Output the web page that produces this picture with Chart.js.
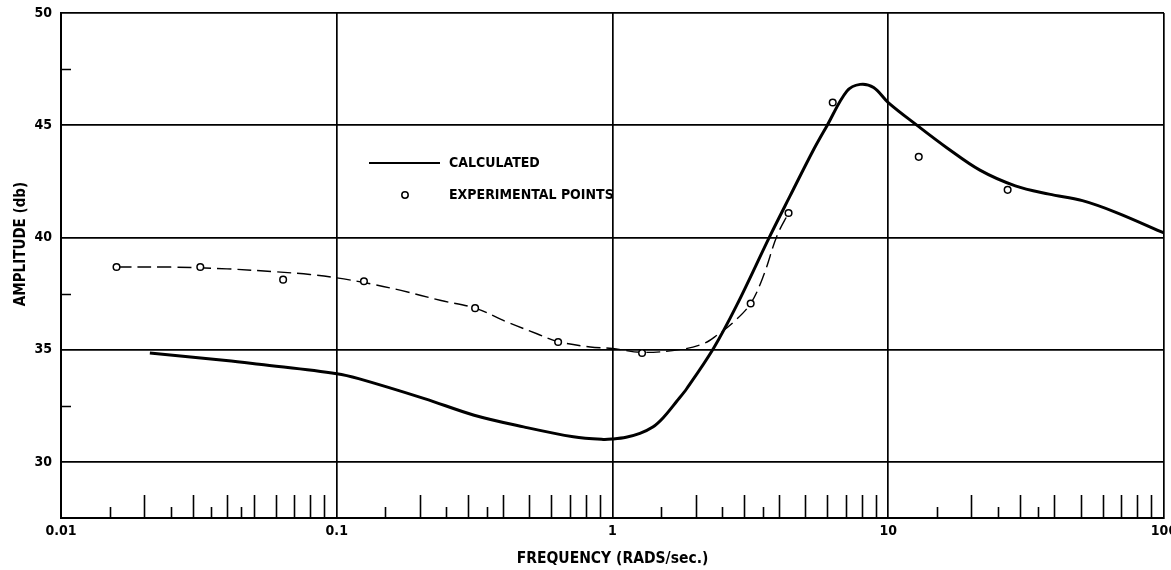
<!DOCTYPE html>
<html>
<head>
<meta charset="utf-8">
<script src="https://cdn.jsdelivr.net/npm/chart.js@4/dist/chart.umd.min.js"></script>
<style>
  html, body { margin: 0; padding: 0; background: #fff; overflow: hidden; }
  #wrap { width: 1200px; height: 570px; }
</style>
</head>
<body>
<div id="wrap"><canvas id="c" width="1200" height="570"></canvas></div>
<script>
const FONT = "'DejaVu Sans Condensed', 'DejaVu Sans', sans-serif";

// Axis ticks
const freqTicks = [0.01, 0.1, 1, 10, 100];
const freqTickLabels = ['0.01', '0.1', '1', '10', '100'];
const ampTicks = [30, 35, 40, 45, 50];
const ampTickLabels = ['30', '35', '40', '45', '50'];

// Log-paper division marks along the frequency axis
const longMinorFreq = [0.02, 0.03, 0.04, 0.05, 0.06, 0.07, 0.08, 0.09,
                       0.2, 0.3, 0.4, 0.5, 0.6, 0.7, 0.8, 0.9,
                       2, 3, 4, 5, 6, 7, 8, 9,
                       20, 30, 40, 50, 60, 70, 80, 90];
const shortMinorFreq = [0.015, 0.025, 0.035, 0.045, 0.15, 0.25, 0.35, 1.5, 2.5, 3.5, 15, 25, 35];
const minorAmp = [32.5, 37.5, 47.5];

// Calculated response
const calcFreq = [0.021, 0.0397, 0.0523, 0.1, 0.12, 0.208, 0.315, 0.476, 0.721, 0.925, 1.0,
                  1.12, 1.257, 1.4, 1.53, 1.71, 1.86, 2.32, 2.82, 3.73, 4.41, 5.37, 5.99, 7.08, 7.91, 8.85,
                  10, 12.8, 16.3, 21.5, 28.9, 38.3, 50.6, 66.9, 100];
const calcAmp  = [34.85, 34.52, 34.35, 33.93, 33.71, 32.82, 32.08, 31.56, 31.12, 31.0, 31.02,
                  31.1, 31.27, 31.55, 31.98, 32.7, 33.27, 35.04, 36.97, 40.08, 41.86, 43.93, 44.97, 46.52, 46.82, 46.68,
                  46.01, 44.97, 44.0, 43.0, 42.3, 41.93, 41.64, 41.12, 40.2];

// Faired curve through the measurements
const fitFreq = [0.016, 0.025, 0.04, 0.06, 0.08, 0.1, 0.133, 0.171, 0.239, 0.3175, 0.415, 0.532,
                 0.635, 0.83, 1.0, 1.28, 1.75, 2.14, 2.39, 2.75, 3.17, 3.53, 3.95, 4.35];
const fitAmp  = [38.68, 38.68, 38.6, 38.47, 38.35, 38.2, 37.93, 37.64, 37.19, 36.85, 36.23, 35.71,
                 35.36, 35.12, 35.05, 34.88, 35.0, 35.27, 35.64, 36.23, 37.06, 38.3, 40.08, 41.09];

// Experimental points
const expFreq = [0.0159, 0.032, 0.0639, 0.1255, 0.3175, 0.635, 1.28, 3.17, 4.35, 6.29, 12.9, 27.1];
const expAmp  = [38.68, 38.68, 38.12, 38.05, 36.85, 35.34, 34.85, 37.06, 41.09, 46.01, 43.59, 42.12];

const zip = (xs, ys) => xs.map((x, i) => ({ x: x, y: ys[i] }));

const paperMarks = {
  id: 'paperMarks',
  beforeDatasetsDraw(chart) {
    const { ctx, chartArea, scales } = chart;
    ctx.save();
    ctx.strokeStyle = '#000';
    ctx.lineWidth = 1.6;
    ctx.beginPath();
    longMinorFreq.forEach(v => {
      const px = Math.round(scales.x.getPixelForValue(v)) + 0.5;
      ctx.moveTo(px, chartArea.bottom);
      ctx.lineTo(px, chartArea.bottom - 23);
    });
    shortMinorFreq.forEach(v => {
      const px = Math.round(scales.x.getPixelForValue(v)) + 0.5;
      ctx.moveTo(px, chartArea.bottom);
      ctx.lineTo(px, chartArea.bottom - 11);
    });
    minorAmp.forEach(v => {
      const py = Math.round(scales.y.getPixelForValue(v)) + 0.5;
      ctx.moveTo(chartArea.left, py);
      ctx.lineTo(chartArea.left + 10, py);
    });
    ctx.stroke();
    ctx.restore();
  },
  afterDraw(chart) {
    const { ctx, chartArea } = chart;
    const L = chartArea.left, T = chartArea.top;
    ctx.save();
    ctx.fillStyle = '#000';
    ctx.strokeStyle = '#000';
    ctx.font = 'bold 14px ' + FONT;
    ctx.textBaseline = 'middle';
    ctx.textAlign = 'left';
    // legend: calculated
    ctx.lineWidth = 2;
    ctx.beginPath();
    ctx.moveTo(L + 308, T + 150);
    ctx.lineTo(L + 379, T + 150);
    ctx.stroke();
    ctx.fillText('CALCULATED', L + 388, T + 150);
    // legend: experimental points
    ctx.lineWidth = 1.5;
    ctx.beginPath();
    ctx.arc(L + 344, T + 182, 3.2, 0, Math.PI * 2);
    ctx.fillStyle = '#fff';
    ctx.fill();
    ctx.stroke();
    ctx.fillStyle = '#000';
    ctx.fillText('EXPERIMENTAL POINTS', L + 388, T + 182);
    // vertical axis title
    ctx.translate(L - 40, T + 231);
    ctx.rotate(-Math.PI / 2);
    ctx.textAlign = 'center';
    ctx.font = 'bold 15px ' + FONT;
    ctx.fillText('AMPLITUDE (db)', 0, 0);
    ctx.restore();
  }
};

new Chart(document.getElementById('c'), {
  type: 'line',
  data: {
    datasets: [
      {
        label: 'EXPERIMENTAL POINTS',
        data: zip(expFreq, expAmp),
        showLine: false,
        pointRadius: 3.3,
        pointBorderWidth: 1.5,
        pointBackgroundColor: '#fff',
        pointBorderColor: '#000',
        order: 0
      },
      {
        label: 'CALCULATED',
        data: zip(calcFreq, calcAmp),
        borderColor: '#000',
        borderWidth: 3,
        pointRadius: 0,
        tension: 0.35,
        fill: false,
        order: 1
      },
      {
        label: 'faired',
        data: zip(fitFreq, fitAmp),
        borderColor: '#000',
        borderWidth: 1.4,
        borderDash: [14, 6],
        pointRadius: 0,
        tension: 0.35,
        fill: false,
        order: 2
      }
    ]
  },
  options: {
    responsive: false,
    animation: false,
    devicePixelRatio: 1,
    layout: { padding: { left: 0, top: 13, right: 36, bottom: 2 } },
    plugins: { legend: { display: false }, tooltip: { enabled: false } },
    scales: {
      x: {
        type: 'logarithmic',
        min: 0.01,
        max: 100,
        afterBuildTicks: s => { s.ticks = freqTicks.map(v => ({ value: v })); },
        afterFit: s => { s.height = 50; },
        ticks: {
          autoSkip: false,
          maxRotation: 0,
          padding: 5,
          color: '#000',
          font: { family: FONT, size: 14, weight: 'bold' },
          callback: (v) => freqTickLabels[freqTicks.indexOf(v)]
        },
        grid: { color: '#000', lineWidth: 1.7, drawTicks: false },
        border: { display: true, color: '#000', width: 2 },
        title: {
          display: true,
          text: 'FREQUENCY (RADS/sec.)',
          color: '#000',
          font: { family: FONT, size: 15.5, weight: 'bold' },
          padding: { top: 0, bottom: 0 }
        }
      },
      y: {
        type: 'linear',
        min: 27.5,
        max: 50,
        afterBuildTicks: s => { s.ticks = ampTicks.map(v => ({ value: v })); },
        afterFit: s => { s.width = 61; },
        ticks: {
          padding: 0,
          color: '#000',
          font: { family: FONT, size: 14, weight: 'bold' },
          callback: (v) => ampTickLabels[ampTicks.indexOf(v)]
        },
        grid: { color: '#000', lineWidth: 1.7, drawTicks: true, tickLength: 9, tickColor: 'rgba(0,0,0,0)' },
        border: { display: true, color: '#000', width: 2 }
      }
    }
  },
  plugins: [paperMarks]
});
</script>
</body>
</html>
